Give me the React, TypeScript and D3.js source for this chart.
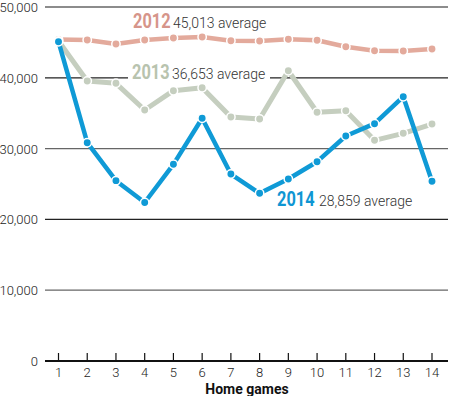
import React from 'react';
import * as d3 from 'd3';

const games = [1, 2, 3, 4, 5, 6, 7, 8, 9, 10, 11, 12, 13, 14];
const yTicks = [0, 10000, 20000, 30000, 40000, 50000];

const att2012 = [45410, 45340, 44770, 45340, 45620, 45760, 45240, 45200, 45440, 45300, 44390, 43830, 43790, 44070];
const att2013 = [45200, 39550, 39220, 35450, 38180, 38600, 34460, 34180, 41000, 35130, 35350, 31170, 32160, 33470];
const att2014 = [45100, 30830, 25470, 22390, 27780, 34280, 26410, 23690, 25710, 28150, 31780, 33520, 37330, 25380];

const series = [
  { year: '2012', avg: '45,013 average', values: att2012, color: '#e3aa9c', label: '#d6958a' },
  { year: '2013', avg: '36,653 average', values: att2013, color: '#c5cebf', label: '#b8c3ae' },
  { year: '2014', avg: '28,859 average', values: att2014, color: '#0f9ad6', label: '#0f96d3' },
];

const W = 450;
const H = 396;
const font = 'Roboto, "Liberation Sans", sans-serif';

export default function App() {
  const x = d3.scaleLinear().domain([1, 14]).range([58.5, 432]);
  const y = d3.scaleLinear().domain([0, 50000]).range([361, 7]);
  const line = d3.line<number>().x((_, i) => x(games[i])).y((d) => y(d));

  // label anchors (x of year, x of average, baseline)
  const labelPos = [
    { x: 133, ax: 173, y: 28 },
    { x: 132, ax: 172, y: 79 },
    { x: 277, ax: 319, y: 206 },
  ];

  return (
    <svg width={W} height={H} style={{ position: 'absolute', left: 0, top: 0, background: '#fff' }} fontFamily={font}>
      {/* grid */}
      {yTicks.filter((t) => t > 0).map((t) => (
        <line key={t} x1={45} x2={448} y1={y(t)} y2={y(t)} stroke={t % 20000 === 0 ? '#222' : '#666'} strokeWidth={1.3} />
      ))}
      {yTicks.map((t) => (
        <text key={t} x={38} y={y(t) + 5} textAnchor="end" fontSize={13} fontWeight={300} fill="#222">
          {d3.format(',')(t)}
        </text>
      ))}
      {/* white block behind 2013 label */}
      <rect x={128} y={68} width={142} height={18} fill="#fff" />

      {/* x axis */}
      <line x1={45} x2={448} y1={y(0)} y2={y(0)} stroke="#111" strokeWidth={2} />
      {games.map((g) => (
        <g key={g}>
          <line x1={x(g)} x2={x(g)} y1={y(0)} y2={y(0) - 8} stroke="#111" strokeWidth={1.2} />
          <text x={x(g)} y={377} textAnchor="middle" fontSize={13} fontWeight={300} fill="#222">{g}</text>
        </g>
      ))}
      <text x={247} y={394} textAnchor="middle" fontSize={14} fontWeight="bold" fill="#111">Home games</text>

      {/* series */}
      {series.map((s) => (
        <g key={s.year}>
          <path d={line(s.values) || ''} fill="none" stroke={s.color} strokeWidth={s.year === '2013' ? 5 : 4.5} strokeLinejoin="round" />
          {s.values.map((v, i) => (
            <circle key={i} cx={x(games[i])} cy={y(v)} r={4.2} fill={s.color} stroke="#fff" strokeWidth={1.5} />
          ))}
        </g>
      ))}

      {/* labels */}
      {series.map((s, i) => (
        <g key={s.year}>
          <text transform={`translate(${labelPos[i].x},${labelPos[i].y}) scale(0.82,1)`} fontSize={20} fontWeight="bold" fill={s.label}>{s.year}</text>
          <text x={labelPos[i].ax} y={labelPos[i].y} fontSize={14} fontWeight={300} fill="#333">{s.avg}</text>
        </g>
      ))}
    </svg>
  );
}
